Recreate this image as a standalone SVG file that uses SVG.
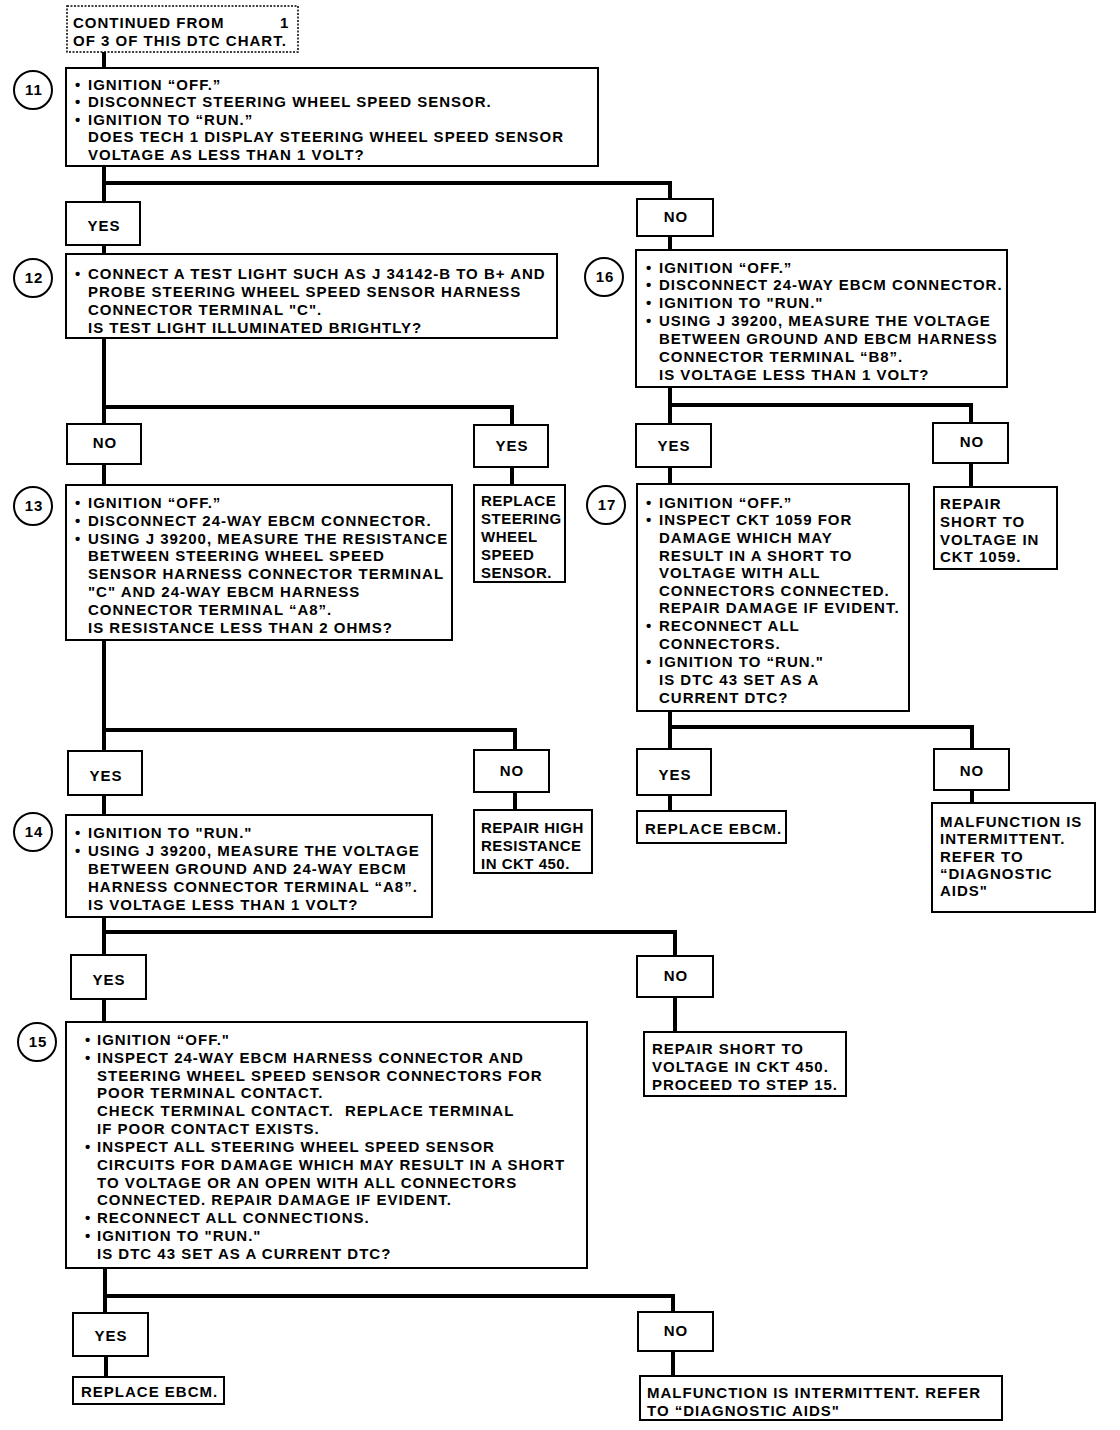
<svg xmlns="http://www.w3.org/2000/svg" width="1120" height="1430" viewBox="0 0 1120 1430">
<style>
.bg{fill:#fff}
.box{fill:#fff;stroke:#000;stroke-width:2}
.dash{fill:#fff;stroke:#000;stroke-width:1.5;stroke-dasharray:2 1.5}
.conn{stroke:#000;stroke-width:4;fill:none}
.circ{fill:#fff;stroke:#000;stroke-width:2}
text{font-family:"Liberation Sans",Arial,sans-serif;font-weight:bold;font-size:15px;letter-spacing:1px;fill:#000}
.c{text-anchor:middle}
.n{letter-spacing:0.5px}
</style>
<rect class="bg" x="0" y="0" width="1120" height="1430"/>
<g id="connectors">
<path class="conn" d="M104 52V68"/>
<path class="conn" d="M104 166V202M104 183H670V199"/>
<path class="conn" d="M104 245V254"/>
<path class="conn" d="M670 236V250"/>
<path class="conn" d="M104 338V424M104 407H512V425"/>
<path class="conn" d="M104 464V485"/>
<path class="conn" d="M512 467V485"/>
<path class="conn" d="M104 640V751M104 730H515V750"/>
<path class="conn" d="M104 795V815"/>
<path class="conn" d="M515 792V810"/>
<path class="conn" d="M104 917V955M104 932H675V956"/>
<path class="conn" d="M104 999V1022"/>
<path class="conn" d="M675 997V1032"/>
<path class="conn" d="M105 1268V1313M105 1296H673V1312"/>
<path class="conn" d="M106 1356V1377"/>
<path class="conn" d="M673 1351V1376"/>
<path class="conn" d="M670 387V424M670 405H971V423"/>
<path class="conn" d="M670 467V484"/>
<path class="conn" d="M971 463V487"/>
<path class="conn" d="M670 711V749M670 727H972V749"/>
<path class="conn" d="M670 795V811"/>
<path class="conn" d="M972 790V803"/>
</g>
<g id="start">
<rect class="dash" x="67" y="6" width="231" height="46"/>
<text x="73" y="28">CONTINUED FROM</text>
<text x="280" y="28">1</text>
<text x="73" y="46">OF 3 OF THIS DTC CHART.</text>
</g>
<g id="step11">
<circle class="circ" cx="33" cy="90" r="19"/>
<text class="c" x="34" y="95">11</text>
<rect class="box" x="66" y="68" width="532" height="98"/>
<text x="75" y="90">•</text><text x="88" y="90">IGNITION “OFF.”</text>
<text x="75" y="107">•</text><text x="88" y="107">DISCONNECT STEERING WHEEL SPEED SENSOR.</text>
<text x="75" y="125">•</text><text x="88" y="125">IGNITION TO “RUN.”</text>
<text x="88" y="142">DOES TECH 1 DISPLAY STEERING WHEEL SPEED SENSOR</text>
<text x="88" y="160">VOLTAGE AS LESS THAN 1 VOLT?</text>
</g>
<g id="yes11"><rect class="box" x="66" y="202" width="74" height="43"/><text class="c" x="104" y="231">YES</text></g>
<g id="no11"><rect class="box" x="637" y="199" width="76" height="37"/><text class="c" x="676" y="222">NO</text></g>
<g id="step12">
<circle class="circ" cx="33" cy="278" r="19"/>
<text class="c" x="34" y="283">12</text>
<rect class="box" x="66" y="254" width="491" height="84"/>
<text x="75" y="279">•</text><text x="88" y="279">CONNECT A TEST LIGHT SUCH AS J 34142-B TO B+ AND</text>
<text x="88" y="297">PROBE STEERING WHEEL SPEED SENSOR HARNESS</text>
<text x="88" y="315">CONNECTOR TERMINAL "C".</text>
<text x="88" y="333">IS TEST LIGHT ILLUMINATED BRIGHTLY?</text>
</g>
<g id="no12"><rect class="box" x="67" y="424" width="74" height="40"/><text class="c" x="105" y="448">NO</text></g>
<g id="yes12"><rect class="box" x="474" y="425" width="74" height="42"/><text class="c" x="512" y="451">YES</text></g>
<g id="step13">
<circle class="circ" cx="33" cy="506" r="19"/>
<text class="c" x="34" y="511">13</text>
<rect class="box" x="66" y="485" width="386" height="155"/>
<text x="75" y="508">•</text><text x="88" y="508">IGNITION “OFF.”</text>
<text x="75" y="526">•</text><text x="88" y="526">DISCONNECT 24-WAY EBCM CONNECTOR.</text>
<text x="75" y="544">•</text><text x="88" y="544">USING J 39200, MEASURE THE RESISTANCE</text>
<text x="88" y="561">BETWEEN STEERING WHEEL SPEED</text>
<text x="88" y="579">SENSOR HARNESS CONNECTOR TERMINAL</text>
<text x="88" y="597">"C" AND 24-WAY EBCM HARNESS</text>
<text x="88" y="615">CONNECTOR TERMINAL “A8”.</text>
<text x="88" y="633">IS RESISTANCE LESS THAN 2 OHMS?</text>
</g>
<g id="replaceSensor">
<rect class="box" x="474" y="485" width="91" height="97"/>
<text class="n" x="481" y="506">REPLACE</text>
<text class="n" x="481" y="524">STEERING</text>
<text class="n" x="481" y="542">WHEEL</text>
<text class="n" x="481" y="560">SPEED</text>
<text class="n" x="481" y="578">SENSOR.</text>
</g>
<g id="yes13"><rect class="box" x="68" y="751" width="74" height="44"/><text class="c" x="106" y="781">YES</text></g>
<g id="no13"><rect class="box" x="474" y="750" width="75" height="42"/><text class="c" x="512" y="776">NO</text></g>
<g id="step14">
<circle class="circ" cx="33" cy="832" r="19"/>
<text class="c" x="34" y="837">14</text>
<rect class="box" x="66" y="815" width="366" height="102"/>
<text x="75" y="838">•</text><text x="88" y="838">IGNITION TO "RUN."</text>
<text x="75" y="856">•</text><text x="88" y="856">USING J 39200, MEASURE THE VOLTAGE</text>
<text x="88" y="874">BETWEEN GROUND AND 24-WAY EBCM</text>
<text x="88" y="892">HARNESS CONNECTOR TERMINAL “A8”.</text>
<text x="88" y="910">IS VOLTAGE LESS THAN 1 VOLT?</text>
</g>
<g id="repairHigh">
<rect class="box" x="474" y="810" width="118" height="63"/>
<text class="n" x="481" y="833">REPAIR HIGH</text>
<text class="n" x="481" y="851">RESISTANCE</text>
<text class="n" x="481" y="869">IN CKT 450.</text>
</g>
<g id="yes14"><rect class="box" x="71" y="955" width="75" height="44"/><text class="c" x="109" y="985">YES</text></g>
<g id="no14"><rect class="box" x="637" y="956" width="76" height="41"/><text class="c" x="676" y="981">NO</text></g>
<g id="step15">
<circle class="circ" cx="37" cy="1042" r="19"/>
<text class="c" x="38" y="1047">15</text>
<rect class="box" x="66" y="1022" width="521" height="246"/>
<text x="85" y="1045">•</text><text x="97" y="1045">IGNITION “OFF."</text>
<text x="85" y="1063">•</text><text x="97" y="1063">INSPECT 24-WAY EBCM HARNESS CONNECTOR AND</text>
<text x="97" y="1081">STEERING WHEEL SPEED SENSOR CONNECTORS FOR</text>
<text x="97" y="1098">POOR TERMINAL CONTACT.</text>
<text x="97" y="1116">CHECK TERMINAL CONTACT.</text><text x="345" y="1116">REPLACE TERMINAL</text>
<text x="97" y="1134">IF POOR CONTACT EXISTS.</text>
<text x="85" y="1152">•</text><text x="97" y="1152">INSPECT ALL STEERING WHEEL SPEED SENSOR</text>
<text x="97" y="1170">CIRCUITS FOR DAMAGE WHICH MAY RESULT IN A SHORT</text>
<text x="97" y="1188">TO VOLTAGE OR AN OPEN WITH ALL CONNECTORS</text>
<text x="97" y="1205">CONNECTED. REPAIR DAMAGE IF EVIDENT.</text>
<text x="85" y="1223">•</text><text x="97" y="1223">RECONNECT ALL CONNECTIONS.</text>
<text x="85" y="1241">•</text><text x="97" y="1241">IGNITION TO "RUN."</text>
<text x="97" y="1259">IS DTC 43 SET AS A CURRENT DTC?</text>
</g>
<g id="repairShort450">
<rect class="box" x="644" y="1032" width="202" height="64"/>
<text x="652" y="1054">REPAIR SHORT TO</text>
<text x="652" y="1072">VOLTAGE IN CKT 450.</text>
<text x="652" y="1090">PROCEED TO STEP 15.</text>
</g>
<g id="yes15"><rect class="box" x="73" y="1313" width="75" height="43"/><text class="c" x="111" y="1341">YES</text></g>
<g id="no15"><rect class="box" x="638" y="1312" width="75" height="39"/><text class="c" x="676" y="1336">NO</text></g>
<g id="replaceEBCM15">
<rect class="box" x="73" y="1377" width="151" height="27"/>
<text x="81" y="1397">REPLACE EBCM.</text>
</g>
<g id="malfunction15">
<rect class="box" x="640" y="1376" width="362" height="44"/>
<text x="647" y="1398">MALFUNCTION IS INTERMITTENT. REFER</text>
<text x="647" y="1416">TO “DIAGNOSTIC AIDS"</text>
</g>
<g id="step16">
<circle class="circ" cx="604" cy="277" r="19"/>
<text class="c" x="605" y="282">16</text>
<rect class="box" x="636" y="250" width="371" height="137"/>
<text x="646" y="273">•</text><text x="659" y="273">IGNITION “OFF.”</text>
<text x="646" y="290">•</text><text x="659" y="290">DISCONNECT 24-WAY EBCM CONNECTOR.</text>
<text x="646" y="308">•</text><text x="659" y="308">IGNITION TO "RUN."</text>
<text x="646" y="326">•</text><text x="659" y="326">USING J 39200, MEASURE THE VOLTAGE</text>
<text x="659" y="344">BETWEEN GROUND AND EBCM HARNESS</text>
<text x="659" y="362">CONNECTOR TERMINAL “B8”.</text>
<text x="659" y="380">IS VOLTAGE LESS THAN 1 VOLT?</text>
</g>
<g id="yes16"><rect class="box" x="636" y="424" width="75" height="43"/><text class="c" x="674" y="451">YES</text></g>
<g id="no16"><rect class="box" x="933" y="423" width="75" height="40"/><text class="c" x="972" y="447">NO</text></g>
<g id="step17">
<circle class="circ" cx="606" cy="505" r="19"/>
<text class="c" x="607" y="510">17</text>
<rect class="box" x="637" y="484" width="272" height="227"/>
<text x="646" y="508">•</text><text x="659" y="508">IGNITION “OFF.”</text>
<text x="646" y="525">•</text><text x="659" y="525">INSPECT CKT 1059 FOR</text>
<text x="659" y="543">DAMAGE WHICH MAY</text>
<text x="659" y="561">RESULT IN A SHORT TO</text>
<text x="659" y="578">VOLTAGE WITH ALL</text>
<text x="659" y="596">CONNECTORS CONNECTED.</text>
<text x="659" y="613">REPAIR DAMAGE IF EVIDENT.</text>
<text x="646" y="631">•</text><text x="659" y="631">RECONNECT ALL</text>
<text x="659" y="649">CONNECTORS.</text>
<text x="646" y="667">•</text><text x="659" y="667">IGNITION TO “RUN."</text>
<text x="659" y="685">IS DTC 43 SET AS A</text>
<text x="659" y="703">CURRENT DTC?</text>
</g>
<g id="repairShort1059">
<rect class="box" x="934" y="487" width="123" height="82"/>
<text x="940" y="509">REPAIR</text>
<text x="940" y="527">SHORT TO</text>
<text x="940" y="545">VOLTAGE IN</text>
<text x="940" y="562">CKT 1059.</text>
</g>
<g id="yes17"><rect class="box" x="637" y="749" width="74" height="46"/><text class="c" x="675" y="780">YES</text></g>
<g id="no17"><rect class="box" x="934" y="749" width="75" height="41"/><text class="c" x="972" y="776">NO</text></g>
<g id="replaceEBCM17">
<rect class="box" x="637" y="811" width="149" height="32"/>
<text x="645" y="834">REPLACE EBCM.</text>
</g>
<g id="malfunction17">
<rect class="box" x="932" y="803" width="163" height="109"/>
<text x="940" y="827">MALFUNCTION IS</text>
<text x="940" y="844">INTERMITTENT.</text>
<text x="940" y="862">REFER TO</text>
<text x="940" y="879">“DIAGNOSTIC</text>
<text x="940" y="896">AIDS"</text>
</g>
</svg>
